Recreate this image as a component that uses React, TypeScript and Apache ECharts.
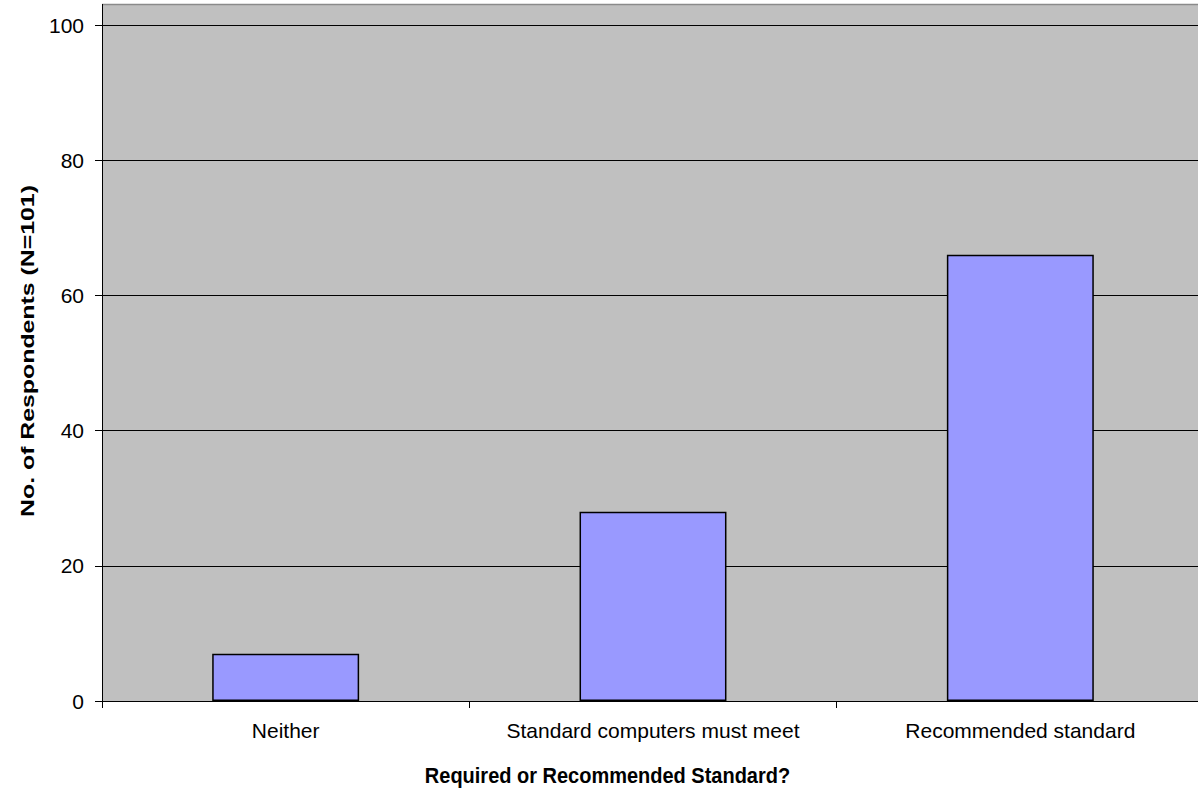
import React, { useEffect, useRef } from "react";
import * as echarts from "echarts";

const categories = ["Neither", "Standard computers must meet", "Recommended standard"];
const respondents = [7, 28, 66];
const yTicks = { min: 0, max: 100, interval: 20 };
const xTitle = "Required or Recommended Standard?";
const yTitle = "No. of Respondents (N=101)";

const FONT = "'Liberation Sans', Arial, sans-serif";

export default function App() {
  const ref = useRef<HTMLDivElement>(null);
  useEffect(() => {
    document.body.style.margin = "0";
    document.body.style.overflow = "hidden";
    const chart = echarts.init(ref.current!, null, { renderer: "svg" });
    chart.setOption({
      animation: false,
      backgroundColor: "#ffffff",
      grid: {
        left: 102,
        top: 25,
        width: 1102,
        height: 676,
        show: true,
        backgroundColor: "#c0c0c0",
        borderWidth: 0,
      },
      xAxis: {
        type: "category",
        data: categories,
        axisLine: { show: true, lineStyle: { color: "#000", width: 1 } },
        axisTick: { show: true, length: 7, lineStyle: { color: "#000" } },
        axisLabel: { color: "#000", fontSize: 21, fontFamily: FONT, margin: 19, interval: 0 },
        splitLine: { show: false },
      },
      yAxis: {
        type: "value",
        min: yTicks.min,
        max: yTicks.max,
        interval: yTicks.interval,
        axisLine: { show: true, lineStyle: { color: "#000", width: 1 } },
        axisTick: { show: true, length: 7, lineStyle: { color: "#000" } },
        axisLabel: { color: "#000", fontSize: 21, fontFamily: FONT, margin: 18 },
        splitLine: { show: true, lineStyle: { color: "#000", width: 1 } },
      },
      series: [
        {
          type: "bar",
          data: respondents,
          barWidth: "40%",
          itemStyle: { color: "#9999ff", borderColor: "#000", borderWidth: 1.5 },
          z: 3,
        },
      ],
      graphic: [
        {
          type: "rect",
          shape: { x: 102, y: 4.5, width: 1110, height: 20.5 },
          style: { fill: "#c0c0c0" },
          silent: true,
        },
        {
          type: "line",
          shape: { x1: 102, y1: 4.5, x2: 1210, y2: 4.5 },
          style: { stroke: "#8a8a8a", lineWidth: 1.5 },
          silent: true,
        },
        {
          type: "line",
          shape: { x1: 102.5, y1: 4, x2: 102.5, y2: 26 },
          style: { stroke: "#000", lineWidth: 1 },
          silent: true,
        },
        {
          type: "text",
          x: 607.5,
          y: 775,
          scaleX: 1,
          scaleY: 1.08,
          style: {
            text: xTitle,
            fill: "#000",
            font: `bold 20px ${FONT}`,
            textAlign: "center",
            textVerticalAlign: "middle",
          },
          silent: true,
        },
        {
          type: "text",
          x: 28,
          y: 351,
          rotation: Math.PI / 2,
          scaleX: 1.38,
          scaleY: 1,
          style: {
            text: yTitle,
            fill: "#000",
            font: `bold 18px ${FONT}`,
            textAlign: "center",
            textVerticalAlign: "middle",
          },
          silent: true,
        },
      ],
    });
    return () => chart.dispose();
  }, []);
  return <div ref={ref} style={{ width: 1210, height: 791 }} />;
}
